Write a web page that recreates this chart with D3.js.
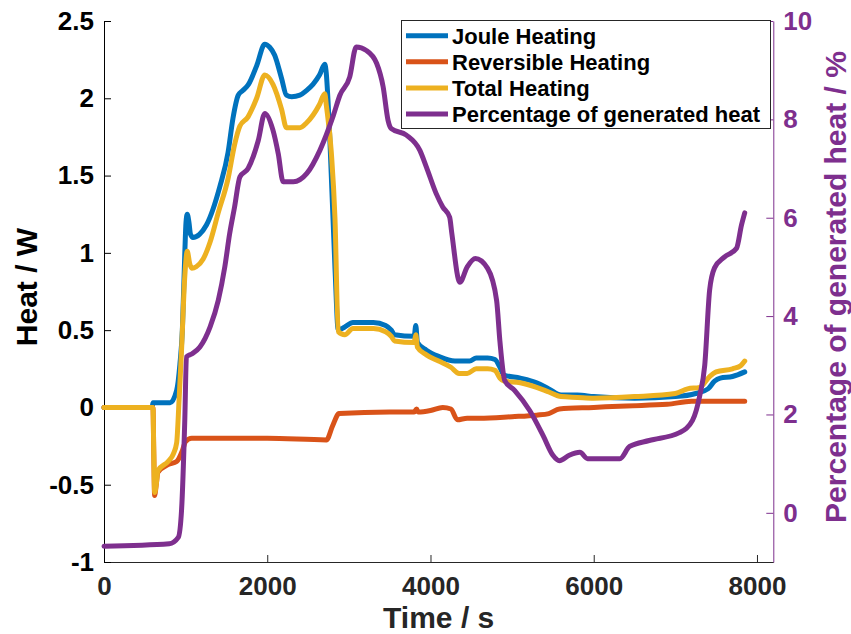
<!DOCTYPE html>
<html>
<head>
<meta charset="utf-8">
<script src="https://cdn.jsdelivr.net/npm/d3@7"></script>
<style>
  body { margin: 0; background: #fff; }
  svg { display: block; font-family: "Liberation Sans", Arial, Helvetica, sans-serif; font-weight: bold; }
</style>
</head>
<body>
<div id="chart"></div>
<script>
// time (s) / value pairs
const jouleHeating = [
  [0, 0], [590, 0], [600, 0.03], [810, 0.03], [890, 0.11], [930, 0.28], [960, 0.5], [990, 1.0],
  [1005, 1.2], [1020, 1.25], [1040, 1.2], [1060, 1.12], [1090, 1.10], [1170, 1.12], [1255, 1.18],
  [1420, 1.43], [1520, 1.65], [1580, 1.87], [1645, 2.02], [1700, 2.05], [1770, 2.09], [1870, 2.21],
  [1970, 2.35], [2030, 2.33], [2090, 2.28], [2175, 2.13], [2235, 2.02], [2300, 2.01], [2400, 2.02],
  [2480, 2.05], [2560, 2.09], [2640, 2.15], [2705, 2.22], [2720, 2.18], [2765, 1.76], [2830, 0.9],
  [2870, 0.5], [2950, 0.52], [3050, 0.55], [3300, 0.55], [3450, 0.53], [3520, 0.50], [3560, 0.47],
  [3800, 0.46], [3820, 0.53], [3840, 0.42], [3950, 0.37], [4100, 0.33], [4300, 0.30], [4480, 0.30],
  [4560, 0.32], [4700, 0.32], [4790, 0.31], [4850, 0.26], [4900, 0.21], [5100, 0.19], [5300, 0.16],
  [5450, 0.12], [5600, 0.08], [5800, 0.08], [6000, 0.07], [6500, 0.06], [7000, 0.07], [7250, 0.09],
  [7400, 0.12], [7480, 0.17], [7550, 0.19], [7700, 0.20], [7850, 0.23]
];
const reversibleHeating = [
  [0, 0], [600, 0], [610, -0.3], [620, -0.57], [640, -0.50], [660, -0.42], [785, -0.37], [890, -0.35],
  [960, -0.28], [1000, -0.22], [1075, -0.20], [2000, -0.20], [2725, -0.21], [2800, -0.12], [2880, -0.04],
  [3500, -0.03], [3800, -0.03], [3830, -0.01], [3850, -0.03], [4000, -0.02], [4150, 0.0], [4250, -0.01],
  [4330, -0.08], [4450, -0.07], [4600, -0.07], [5000, -0.06], [5300, -0.05], [5450, -0.04], [5580, -0.01],
  [6000, 0.0], [6400, 0.01], [6900, 0.02], [7200, 0.04], [7850, 0.04]
];
const totalHeating = [
  [0, 0], [600, 0], [610, -0.3], [620, -0.55], [640, -0.50], [660, -0.41], [785, -0.35], [850, -0.30],
  [890, -0.23], [920, 0.05], [950, 0.37], [990, 0.85], [1020, 1.01], [1050, 0.93], [1075, 0.90],
  [1130, 0.91], [1215, 0.96], [1300, 1.07], [1400, 1.26], [1520, 1.48], [1600, 1.70], [1665, 1.82],
  [1765, 1.88], [1870, 2.00], [1970, 2.15], [2070, 2.09], [2175, 1.93], [2235, 1.81], [2400, 1.81],
  [2480, 1.84], [2560, 1.89], [2640, 1.96], [2705, 2.03], [2725, 1.95], [2785, 1.65], [2830, 1.22],
  [2870, 0.49], [2950, 0.47], [3050, 0.51], [3300, 0.51], [3450, 0.49], [3520, 0.46], [3560, 0.43],
  [3800, 0.42], [3820, 0.47], [3840, 0.39], [3950, 0.34], [4100, 0.30], [4250, 0.26], [4350, 0.22],
  [4450, 0.22], [4560, 0.25], [4700, 0.25], [4790, 0.24], [4850, 0.19], [4900, 0.17], [5100, 0.16],
  [5300, 0.13], [5450, 0.10], [5600, 0.07], [5800, 0.065], [6000, 0.06], [6500, 0.07], [7000, 0.09],
  [7150, 0.12], [7300, 0.13], [7420, 0.20], [7500, 0.23], [7700, 0.25], [7800, 0.27], [7850, 0.30]
];
// right axis, %
const heatPercentage = [
  [0, -0.68], [800, -0.63], [910, -0.50], [950, 0.05], [990, 1.9], [1010, 3.17], [1075, 3.23],
  [1175, 3.37], [1300, 3.78], [1400, 4.32], [1480, 5.0], [1540, 5.68], [1600, 6.22], [1665, 6.83],
  [1765, 7.0], [1890, 7.57], [1970, 8.12], [2070, 7.78], [2135, 7.30], [2195, 6.73], [2320, 6.73],
  [2485, 6.90], [2645, 7.37], [2810, 8.08], [2890, 8.49], [3010, 8.86], [3090, 9.47], [3215, 9.40],
  [3340, 9.14], [3420, 8.66], [3480, 7.98], [3520, 7.81], [3705, 7.68], [3870, 7.37], [3950, 7.03],
  [4070, 6.49], [4150, 6.22], [4235, 6.01], [4260, 5.7], [4360, 4.69], [4450, 5.0], [4550, 5.17],
  [4700, 4.97], [4810, 4.32], [4850, 3.5], [4910, 2.69], [5030, 2.49], [5215, 2.08], [5380, 1.57],
  [5500, 1.17], [5580, 1.06], [5700, 1.17], [5830, 1.23], [5925, 1.10], [6320, 1.10], [6440, 1.35],
  [6680, 1.47], [7050, 1.63], [7210, 1.88], [7300, 2.39], [7360, 3.0], [7420, 4.53], [7480, 4.98],
  [7600, 5.2], [7750, 5.38], [7810, 5.85], [7850, 6.1]
];

const xTicks = [0, 2000, 4000, 6000, 8000];
const leftTicks = [-1, -0.5, 0, 0.5, 1, 1.5, 2, 2.5];
const rightTicks = [0, 2, 4, 6, 8, 10];
const legendLabels = ["Joule Heating", "Reversible Heating", "Total Heating", "Percentage of generated heat"];

const colors = ["#0072BD", "#D95319", "#EDB120", "#7E2F8E"];
const purple = "#7E2F8E";

const W = 851, H = 634;
const plot = { left: 104, right: 773.3, top: 21, bottom: 562 };

const svg = d3.select("#chart").append("svg")
  .attr("width", W)
  .attr("height", H);

const x = d3.scaleLinear().domain([0, 8200]).range([plot.left, plot.right]);
const yL = d3.scaleLinear().domain([-1, 2.5]).range([plot.bottom, plot.top]);
const yR = d3.scaleLinear().domain([-1, 10]).range([plot.bottom, plot.top]);

// axes
const xAxis = svg.append("g")
  .attr("transform", "translate(0," + plot.bottom + ")")
  .call(d3.axisBottom(x).tickValues(xTicks).tickSizeInner(-7).tickSizeOuter(0).tickPadding(15).tickFormat(d => String(d)));
xAxis.selectAll("path, line").attr("stroke", "#262626");
xAxis.selectAll("text").attr("fill", "#262626").style("font-size", "26px").style("font-weight", "bold");

const leftAxis = svg.append("g")
  .attr("transform", "translate(" + plot.left + ",0)")
  .call(d3.axisLeft(yL).tickValues(leftTicks).tickSizeInner(-7).tickSizeOuter(0).tickPadding(10).tickFormat(d => String(d)));
leftAxis.selectAll("path, line").attr("stroke", "#000");
leftAxis.selectAll("text").attr("fill", "#000").style("font-size", "26px").style("font-weight", "bold");

const rightAxis = svg.append("g")
  .attr("transform", "translate(" + plot.right + ",0)")
  .call(d3.axisRight(yR).tickValues(rightTicks).tickSizeInner(-7).tickSizeOuter(0).tickPadding(10).tickFormat(d => String(d)));
rightAxis.selectAll("path, line").attr("stroke", purple);
rightAxis.selectAll("text").attr("fill", purple).style("font-size", "26px").style("font-weight", "bold");

svg.selectAll(".tick text").style("font-family", "'Liberation Sans', Arial, Helvetica, sans-serif");

// axis labels
svg.append("text")
  .attr("transform", "translate(37,287) rotate(-90)")
  .attr("text-anchor", "middle")
  .style("font-size", "30px")
  .attr("fill", "#000")
  .text("Heat / W");

svg.append("text")
  .attr("transform", "translate(846,287) rotate(-90)")
  .attr("text-anchor", "middle")
  .style("font-size", "30px")
  .attr("fill", purple)
  .text("Percentage of generated heat / %");

svg.append("text")
  .attr("x", (plot.left + plot.right) / 2)
  .attr("y", 628)
  .attr("text-anchor", "middle")
  .style("font-size", "30px")
  .attr("fill", "#262626")
  .text("Time / s");

// lines
const lineL = d3.line().curve(d3.curveMonotoneX).x(d => x(d[0])).y(d => yL(d[1]));
const lineR = d3.line().curve(d3.curveMonotoneX).x(d => x(d[0])).y(d => yR(d[1]));

[jouleHeating, reversibleHeating, totalHeating].forEach((s, i) => {
  svg.append("path")
    .datum(s)
    .attr("d", lineL)
    .attr("fill", "none")
    .attr("stroke", colors[i])
    .attr("stroke-width", 5)
    .attr("stroke-linejoin", "round")
    .attr("stroke-linecap", "round");
});

svg.append("path")
  .datum(heatPercentage)
  .attr("d", lineR)
  .attr("fill", "none")
  .attr("stroke", colors[3])
  .attr("stroke-width", 5)
  .attr("stroke-linejoin", "round")
  .attr("stroke-linecap", "round");

// legend
const legend = svg.append("g");
legend.append("rect")
  .attr("x", 401.5)
  .attr("y", 20.5)
  .attr("width", 369)
  .attr("height", 108)
  .attr("fill", "#fff")
  .attr("stroke", "#262626")
  .attr("stroke-width", 1);

legendLabels.forEach((label, i) => {
  const cy = 35.7 + i * 26.1;
  legend.append("line")
    .attr("x1", 406).attr("x2", 448)
    .attr("y1", cy).attr("y2", cy)
    .attr("stroke", colors[i])
    .attr("stroke-width", 5);
  legend.append("text")
    .attr("x", 452)
    .attr("y", cy)
    .attr("dy", "0.36em")
    .style("font-size", "22px")
    .attr("fill", "#000")
    .text(label);
});
</script>
</body>
</html>
